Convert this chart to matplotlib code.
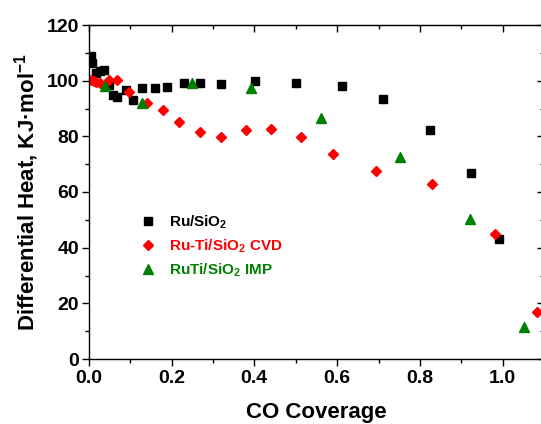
import matplotlib
matplotlib.use("Agg")
import matplotlib.pyplot as plt
from matplotlib.ticker import MultipleLocator

plt.rcParams['font.family'] = ['Liberation Sans', 'DejaVu Sans']
plt.rcParams['font.weight'] = 'bold'
plt.rcParams['mathtext.fontset'] = 'custom'
plt.rcParams['mathtext.rm'] = 'Liberation Sans:bold'
plt.rcParams['mathtext.bf'] = 'Liberation Sans:bold'
plt.rcParams['mathtext.it'] = 'Liberation Sans:bold'
plt.rcParams['mathtext.default'] = 'bf'

# Ru/SiO2
ru_x = [0.006, 0.008, 0.018, 0.027, 0.038, 0.049, 0.059, 0.069, 0.089, 0.108,
        0.128, 0.159, 0.189, 0.230, 0.269, 0.320, 0.401, 0.500, 0.612, 0.712,
        0.824, 0.923, 0.992]
ru_y = [109.0, 106.2, 102.8, 103.3, 104.0, 98.6, 94.8, 94.2, 96.6, 93.2,
        97.4, 97.2, 97.8, 99.2, 99.2, 98.8, 99.8, 99.2, 98.1, 93.3,
        82.4, 66.9, 43.2]
# Ru-Ti/SiO2 CVD
cvd_x = [0.005, 0.012, 0.018, 0.028, 0.049, 0.069, 0.098, 0.140, 0.180, 0.218,
         0.269, 0.320, 0.380, 0.441, 0.512, 0.591, 0.693, 0.830, 0.982, 1.082]
cvd_y = [100.3, 99.8, 99.5, 99.2, 100.3, 100.3, 96.0, 92.1, 89.6, 85.2,
         81.5, 79.6, 82.4, 82.8, 79.6, 73.6, 67.4, 62.8, 44.9, 17.0]
# RuTi/SiO2 IMP
imp_x = [0.039, 0.129, 0.250, 0.391, 0.562, 0.753, 0.921, 1.052]
imp_y = [98.1, 91.9, 99.1, 97.3, 86.5, 72.4, 50.3, 11.5]

labels = ['Ru/SiO$_2$', 'Ru-Ti/SiO$_2$ CVD', 'RuTi/SiO$_2$ IMP']
xtick_vals = [0, 0.2, 0.4, 0.6, 0.8, 1.0]
xtick_labels = ['0.0', '0.2', '0.4', '0.6', '0.8', '1.0']

fig = plt.figure(figsize=(5.41, 4.24), dpi=100)
ax = fig.add_axes([88.7/541, 1-359/424, 455.4/541, 334/424])

ax.plot(ru_x, ru_y, 's', color='black', ms=5.5, mec='black', label=labels[0])
ax.plot(cvd_x, cvd_y, 'D', color='red', ms=5.2, mec='red', label=labels[1])
ax.plot(imp_x, imp_y, '^', color='green', ms=6.5, mec='green', label=labels[2])

ax.set_xlim(0, 1.1)
ax.set_ylim(0, 120)
ax.set_xticks(xtick_vals)
ax.set_xticklabels(xtick_labels)
ax.xaxis.set_minor_locator(MultipleLocator(0.1))
ax.yaxis.set_major_locator(MultipleLocator(20))
ax.yaxis.set_minor_locator(MultipleLocator(10))

ax.tick_params(which='both', direction='out', top=False, right=False, width=1.0)
ax.tick_params(which='major', length=5, labelsize=14)
ax.tick_params(axis='x', which='major', pad=3)
ax.tick_params(axis='y', which='major', pad=2)
ax.tick_params(which='minor', length=3)

# inward ticks on top and right
axt = ax.secondary_xaxis('top')
axt.set_xticks(xtick_vals)
axt.xaxis.set_minor_locator(MultipleLocator(0.1))
axt.tick_params(which='both', direction='in', labeltop=False, width=1.0)
axt.tick_params(which='major', length=5)
axt.tick_params(which='minor', length=3)
axr = ax.secondary_yaxis('right')
axr.yaxis.set_major_locator(MultipleLocator(20))
axr.yaxis.set_minor_locator(MultipleLocator(10))
axr.tick_params(which='both', direction='in', labelright=False, width=1.0)
axr.tick_params(which='major', length=5)
axr.tick_params(which='minor', length=3)

for s in ax.spines.values():
    s.set_linewidth(1.0)

ax.set_xlabel('CO Coverage', fontsize=16, fontweight='bold', labelpad=11)
ax.set_ylabel('Differential Heat, KJ·mol$^{-1}$', fontsize=16, fontweight='bold', labelpad=4)

leg = ax.legend(loc='upper left', bbox_to_anchor=(0.10, 0.455), frameon=False,
                fontsize=11, handlelength=1.0, handletextpad=0.9,
                labelspacing=0.45, borderaxespad=0, labelcolor='linecolor')

fig.savefig('out.png', dpi=100)
